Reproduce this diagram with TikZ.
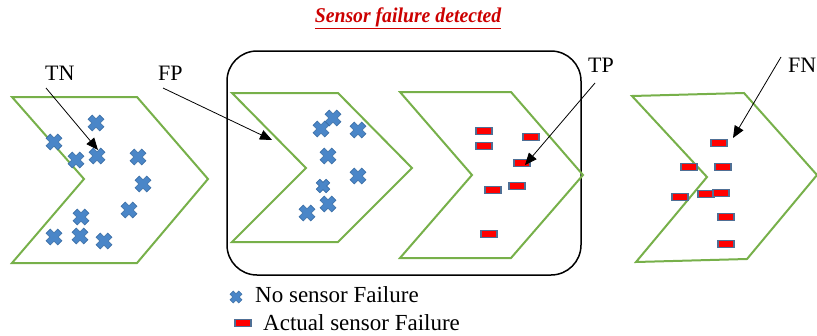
\documentclass[tikz,border=0pt]{standalone}
\usepackage{fontspec}
\setmainfont{Liberation Serif}
\usetikzlibrary{arrows.meta}
\definecolor{chevgreen}{HTML}{77B04A}
\definecolor{xblue}{HTML}{4A86C8}
\definecolor{xedge}{HTML}{3A6EA5}
\definecolor{redfill}{HTML}{FF0000}
\definecolor{rededge}{HTML}{4F6F95}
\definecolor{titlered}{HTML}{CC0000}
\tikzset{
  chev/.style={draw=chevgreen, line width=2pt, line join=miter},
  lbl/.style={anchor=base west, inner sep=0pt, font=\rmfamily\fontsize{22}{26}\selectfont},
  legtext/.style={anchor=base west, inner sep=0pt, font=\rmfamily\fontsize{23}{27}\selectfont},
  ptr/.style={draw=black, line width=0.8pt, -{Triangle[length=12pt,width=10pt]}},
  frame/.style={draw=black, line width=1.5pt, rounded corners=30pt},
  xmark/.pic={\fill[xblue, draw=xedge, line width=0.6pt, rotate=45]
     (3,8.2)--(3,3)--(8.2,3)--(8.2,-3)--(3,-3)--(3,-8.2)--(-3,-8.2)--(-3,-3)--(-8.2,-3)--(-8.2,3)--(-3,3)--(-3,8.2)--cycle;},
  fmark/.pic={\draw[fill=redfill, draw=rededge, line width=1.8pt] (-8,-3.5) rectangle (8,3.5);}
}
\begin{document}
\begin{tikzpicture}[x=1pt,y=-1pt]
\useasboundingbox (0,0) rectangle (817,335);
\clip (0,0) rectangle (817,335);
% title
\node[anchor=base, inner sep=0pt, text=titlered, font=\rmfamily\fontsize{21}{25}\selectfont\bfseries\itshape] (title) at (408,22) {\scalebox{0.94}[1]{\underline{Sensor failure detected}}};
% frame
\draw[frame] (227,51) rectangle (581,275);
% chevrons
\draw[chev] (12,97) -- (137,97) -- (208,179) -- (137,263) -- (12,263) -- (84,179) -- cycle;
\draw[chev] (232,93) -- (338,93) -- (412,168) -- (338,242) -- (232,242) -- (306,168) -- cycle;
\draw[chev] (400,92) -- (511,92) -- (583,175) -- (511,258) -- (400,258) -- (472,175) -- cycle;
\draw[chev] (632,96) -- (744,93) -- (817,175) -- (747,259) -- (636,262) -- (707,177) -- cycle;
% crosses chevron 1
\foreach \p in {(96,123),(54,142),(76,160),(97,156),(138,157),(143,184),(129,210),(81,217),(54,237),(80,236),(104,241)}
  \pic at \p {xmark};
% crosses chevron 2
\foreach \p in {(333,118),(321,129),(358,130),(328,156),(358,176),(328,204),(307,213)}
  \pic at \p {xmark};
\pic[scale=0.85] at (323,186) {xmark};
% failures chevron 3
\foreach \p in {(484,131),(484,146),(531,137),(522,163),(493,190),(517,186),(489,234)}
  \pic at \p {fmark};
% failures chevron 4
\foreach \p in {(719,143),(689,167),(723,167),(680,197),(706,194),(721,193),(726,217),(726,244)}
  \pic at \p {fmark};
% labels
\node[lbl] (tn) at (45,80) {TN};
\node[lbl] (fp) at (158,80) {FP};
\node[lbl] (tp) at (588,72) {TP};
\node[lbl] (fn) at (788,72) {FN};
\coordinate (tns) at (46,88);  \coordinate (tne) at (98,150);
\coordinate (fps) at (163,88); \coordinate (fpe) at (272,140);
\coordinate (tps) at (595,83); \coordinate (tpe) at (525,165);
\coordinate (fns) at (781,57); \coordinate (fne) at (733,138);
\draw[ptr] (tns) -- (tne);
\draw[ptr] (fps) -- (fpe);
\draw[ptr] (tps) -- (tpe);
\draw[ptr] (fns) -- (fne);
% legend
\pic[scale=0.75] at (236,297) {xmark};
\node[legtext] (leg1) at (255,302) {No sensor Failure};
\draw[fill=redfill, draw=rededge, line width=1.8pt] (235,319.5) rectangle (251,326.5);
\node[legtext] (leg2) at (263,330.5) {Actual sensor Failure};
\end{tikzpicture}
\end{document}
